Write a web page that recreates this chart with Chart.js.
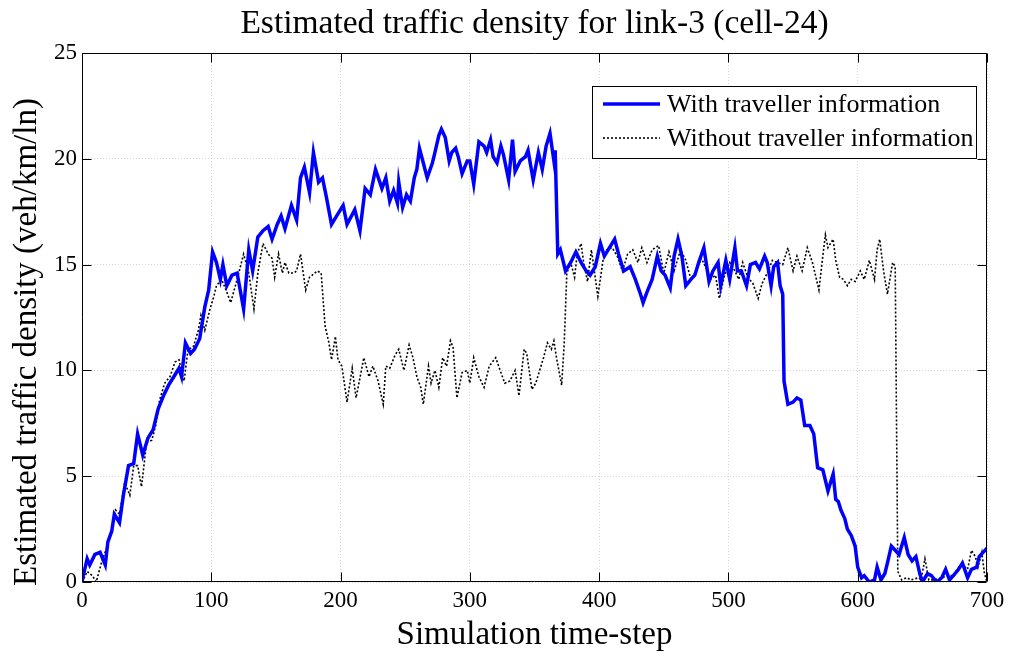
<!DOCTYPE html>
<html>
<head>
<meta charset="utf-8">
<script src="https://cdn.jsdelivr.net/npm/chart.js@4.4.0/dist/chart.umd.min.js"></script>
<style>
  html, body { margin: 0; padding: 0; background: #fff; }
  #wrap { width: 1011px; height: 657px; position: relative; }
</style>
</head>
<body>
<div id="wrap"><canvas id="myChart"></canvas></div>
<script>
// values (time-step, density)
const seriesNames = ['With traveller information', 'Without traveller information'];

const withT = [0,1,4,6,10,14,18,20,23,25,29,32,36,40,43,47,51,55,59,63,67,71,75,77,80,84,87,91,95,98,
  101,104,107,109,112,116,120,125,129,132,136,140,144,147,151,154,157,162,166,169,172,176,179,183,186,189,193,197,
  202,205,211,215,219,223,227,232,235,238,241,244,245,248,251,254,257,259,261,264,267,271,273,276,278,281,284,286,289,291,294,298,
  300,303,307,311,313,316,318,321,324,326,330,333,335,339,343,345,349,353,356,359,362,365,366,368,370,374,378,382,386,390,393,397,
  401,404,408,412,415,419,424,428,432,434,437,441,445,448,451,455,458,461,464,467,471,474,477,481,485,488,492,494,498,
  501,505,507,510,514,517,521,524,528,530,533,535,538,540,542,543,546,550,553,556,559,563,566,569,573,577,581,583,585,587,590,592,595,598,
  600,603,605,609,613,615,618,621,623,626,629,632,636,639,642,645,648,650,654,657,661,665,668,671,674,678,681,685,688,692,694,697,700];
const withV = [0,0.3,1.1,0.8,1.3,1.4,0.8,1.9,2.4,3.2,2.8,4.1,5.5,5.6,7.0,6.0,6.8,7.2,8.2,8.8,9.3,9.7,10.1,9.7,11.3,10.8,11.0,11.5,13.0,13.8,
  15.6,15.1,14.3,15.0,14.0,14.5,14.6,12.9,15.7,14.7,16.3,16.6,16.8,16.2,16.9,17.3,16.7,17.8,17.1,19.1,19.6,18.4,20.3,18.9,19.1,18.2,16.9,17.3,
  17.8,16.9,17.6,16.6,18.6,18.3,19.5,18.6,19.1,18.0,18.5,17.9,18.9,17.7,18.3,18.0,19.1,19.5,20.5,19.8,19.1,19.8,20.3,21.1,21.4,21.0,19.9,20.3,20.5,20.1,19.3,19.9,
  19.9,18.8,20.8,20.6,20.3,20.9,20.1,19.8,20.6,20.2,19.0,20.9,19.4,19.9,20.1,20.4,19.0,20.3,19.5,20.6,21.2,19.9,20.4,15.5,15.7,14.7,15.1,15.6,15.1,14.7,14.5,14.9,
  16.0,15.4,15.8,16.2,15.5,14.7,14.9,14.3,13.6,13.2,13.7,14.3,15.4,14.7,14.5,13.9,15.4,16.2,15.4,14.0,14.3,14.5,15.1,15.8,14.2,14.7,15.1,14.0,15.2,
  14.3,15.8,14.7,14.7,14.0,15.0,15.1,14.8,15.4,15.1,14.0,14.9,15.1,14.0,13.6,9.5,8.4,8.5,8.7,8.6,7.4,7.4,7.0,5.4,5.3,4.3,5.1,3.9,3.8,3.4,3.0,2.5,2.2,1.7,
  0.7,0.2,0.3,0,0.1,0.7,0.1,0.4,0.9,1.7,1.5,1.3,2.1,1.3,1.0,1.2,0.4,0,0.4,0.3,0,0.2,0.6,0.1,0.3,0.6,0.9,0.2,0.6,0.7,1.2,1.4,1.6];

const withoutT = [0,1,4,8,11,15,19,23,26,29,33,37,40,43,46,50,54,57,60,64,68,72,75,79,82,86,90,92,95,99,
  102,104,108,112,115,120,125,129,133,136,140,144,147,149,152,155,157,160,164,166,169,173,176,182,185,188,191,193,196,198,
  201,205,209,212,218,222,225,229,233,235,238,242,245,249,253,256,259,262,264,268,270,273,276,279,282,285,287,290,294,298,
  300,303,307,311,315,320,324,327,331,335,338,342,344,348,351,355,357,360,363,365,367,371,373,375,378,381,383,386,388,391,394,399,
  403,406,410,414,418,422,426,430,433,437,441,446,450,454,458,463,467,471,475,479,483,486,490,493,497,
  501,505,508,511,515,519,523,526,530,534,538,542,546,550,553,557,561,565,570,573,575,577,581,583,586,589,592,595,598,
  602,605,609,613,615,617,620,623,627,629,631,634,638,641,647,649,652,655,659,665,670,674,678,681,685,688,691,693,696,698,700];
const withoutV = [0,0.1,0.5,0.3,0,0.9,1.6,2.4,3.4,3.2,4.7,4.1,5.5,5.5,4.5,6.6,6.7,7.4,8.6,9.4,9.7,10.4,10.5,9.5,11.0,11.1,11.9,12.6,11.9,12.9,
  13.5,14.0,14.3,13.7,13.2,14.3,15.5,14.6,12.9,14.6,16.0,15.5,15.3,14.4,15.5,14.6,15.1,14.6,14.6,14.7,15.5,13.8,14.4,14.7,14.6,12.1,11.3,10.5,11.6,10.5,
  10.2,8.5,10.1,8.7,10.6,9.7,10.2,9.5,8.4,10.2,10.1,10.7,11.0,10.0,11.2,10.6,9.7,9.2,8.4,10.2,9.4,10.0,9.2,10.6,10.2,11.4,11.1,8.7,9.9,10.0,
  9.4,10.6,9.7,9.2,10.2,10.6,9.9,9.4,9.5,10.0,8.8,11.0,10.8,9.1,9.4,10.2,10.6,11.3,11.0,11.4,10.6,9.3,11.3,14.6,15.1,14.4,15.5,16.0,15.1,14.2,15.7,13.5,
  15.2,15.7,15.8,15.4,14.7,15.5,15.7,15.1,15.8,15.1,15.7,15.9,14.6,15.6,14.7,15.7,15.2,14.3,14.7,15.3,14.8,14.3,14.5,13.4,14.5,
  15.1,14.7,14.3,15.1,14.4,14.1,13.4,14.1,14.6,15.2,15.1,15.0,15.8,14.7,15.4,14.7,15.8,15.1,13.8,15.4,16.4,15.8,16.2,15.2,14.4,14.3,14.0,14.3,14.2,
  14.7,14.3,15.2,14.3,15.7,16.2,14.7,13.6,15.1,14.9,0.5,0.1,0.2,0.1,0.2,0.1,1.1,0.1,0.1,0.2,0.3,0.3,0.7,0.8,0.6,1.5,1.2,0.7,1.4,0.4,0];

const xTicks = {min: 0, max: 700, step: 100};
const yTicks = {min: 0, max: 25, step: 5};

const chartTitle = 'Estimated traffic density for link-3 (cell-24)';
const xTitle = 'Simulation time-step';
const yTitle = 'Estimated traffic density (veh/km/ln)';

const serif = "'Liberation Serif', 'Times New Roman', serif";

function toPoints(ts, vs) {
    return ts.map((t, i) => ({x: t, y: vs[i]}));
}

// box round the plot, inward ticks on all four sides
const boxPlugin = {
    id: 'box',
    afterDatasetsDraw(chart) {
        const {ctx, chartArea: a, scales: {x, y}} = chart;
        const l = Math.round(a.left) + 0.5, r = Math.round(a.right) - 0.5;
        const t = Math.round(a.top) + 0.5, b = Math.round(a.bottom) - 0.5;
        ctx.save();
        ctx.strokeStyle = '#000';
        ctx.lineWidth = 1;
        ctx.beginPath();
        ctx.rect(l, t, r - l, b - t);
        x.ticks.forEach(tk => {
            const px = Math.round(x.getPixelForValue(tk.value)) + 0.5;
            ctx.moveTo(px, b); ctx.lineTo(px, b - 9);
            ctx.moveTo(px, t); ctx.lineTo(px, t + 9);
        });
        y.ticks.forEach(tk => {
            const py = Math.round(y.getPixelForValue(tk.value)) + 0.5;
            ctx.moveTo(l, py); ctx.lineTo(l + 9, py);
            ctx.moveTo(r, py); ctx.lineTo(r - 9, py);
        });
        ctx.stroke();
        ctx.restore();
    }
};

// legend box in the upper right, chart title and y axis label
const legendPlugin = {
    id: 'boxLegend',
    afterDraw(chart) {
        const ctx = chart.ctx;
        const a = chart.chartArea;
        ctx.save();
        const bx = Math.round(a.right) - 395, by = Math.round(a.top) + 33, bw = 384, bh = 72;
        ctx.fillStyle = '#fff';
        ctx.fillRect(bx, by, bw, bh);
        ctx.strokeStyle = '#000';
        ctx.lineWidth = 1;
        ctx.strokeRect(bx + 0.5, by + 0.5, bw, bh);
        chart.data.datasets.forEach((ds, i) => {
            const ly = by + 18 + i * 34;
            ctx.beginPath();
            ctx.strokeStyle = ds.borderColor;
            ctx.lineWidth = ds.borderWidth;
            ctx.setLineDash(ds.borderDash || []);
            ctx.moveTo(bx + 11, ly);
            ctx.lineTo(bx + 68, ly);
            ctx.stroke();
            ctx.setLineDash([]);
            ctx.fillStyle = '#000';
            ctx.font = '26px ' + serif;
            ctx.textBaseline = 'middle';
            ctx.fillText(ds.label, bx + 75, ly + 1);
        });

        ctx.fillStyle = '#000';
        ctx.textAlign = 'center';
        ctx.textBaseline = 'middle';
        ctx.font = '33.5px ' + serif;
        ctx.fillText(chartTitle, (a.left + a.right) / 2, 24);

        ctx.translate(27, 342);
        ctx.rotate(-Math.PI / 2);
        ctx.font = '33px ' + serif;
        ctx.fillText(yTitle, 0, 0);
        ctx.restore();
    }
};

var ctx = document.getElementById('myChart');

var myChart = new Chart(ctx, {
    type: 'line',
    data: {
        datasets: [{
            label: seriesNames[0],
            data: toPoints(withT, withV),
            borderColor: '#0000ff',
            borderWidth: 3.5,
            pointRadius: 0,
            tension: 0
        }, {
            label: seriesNames[1],
            data: toPoints(withoutT, withoutV),
            borderColor: '#000',
            borderWidth: 1.6,
            borderDash: [2, 2],
            pointRadius: 0,
            tension: 0
        }]
    },
    options: {
        responsive: true,
        maintainAspectRatio: false,
        devicePixelRatio: 1,
        animation: false,
        layout: { padding: { left: 0, right: 24, top: 53, bottom: 0 } },
        plugins: {
            legend: { display: false },
            tooltip: { enabled: false },
            title: { display: false }
        },
        scales: {
            x: {
                type: 'linear',
                min: xTicks.min,
                max: xTicks.max,
                ticks: { stepSize: xTicks.step, color: '#000', padding: 5, font: { family: serif, size: 23 } },
                grid: { color: '#d6d6d6', drawTicks: false },
                border: { display: false, dash: [1, 2] },
                title: {
                    display: true,
                    text: xTitle,
                    color: '#000',
                    font: { family: serif, size: 33 },
                    padding: { top: 0, bottom: 2 }
                },
                afterFit(scale) {
                    scale.height = 75;
                    scale.paddingLeft = 0;
                    scale.paddingRight = 0;
                }
            },
            y: {
                min: yTicks.min,
                max: yTicks.max,
                ticks: { stepSize: yTicks.step, color: '#000', padding: 5, font: { family: serif, size: 23 } },
                grid: { color: '#d6d6d6', drawTicks: false },
                border: { display: false, dash: [1, 2] },
                afterFit(scale) {
                    scale.width = 82;
                    scale.paddingTop = 0;
                    scale.paddingBottom = 0;
                }
            }
        }
    },
    plugins: [boxPlugin, legendPlugin]
});
</script>
</body>
</html>
